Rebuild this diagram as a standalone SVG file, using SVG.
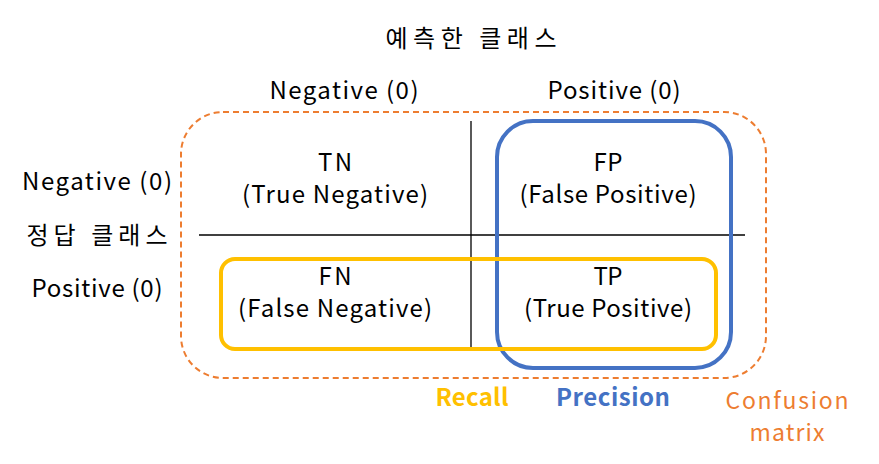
<svg xmlns="http://www.w3.org/2000/svg" width="879" height="464" viewBox="0 0 879 464">
<style>
text{font-family:"Noto Sans CJK KR","Noto Sans",sans-serif;font-size:24px;fill:#000;text-anchor:middle}
.b{font-weight:bold}
.o{fill:#ED7D31;font-size:23px}
</style>
<rect width="879" height="464" fill="#fff"/>
<g id="labels">
<text x="471" y="47" textLength="171" lengthAdjust="spacing">예측한 클래스</text>
<text x="344" y="99" textLength="149" lengthAdjust="spacing">Negative (0)</text>
<text x="614" y="99" textLength="133" lengthAdjust="spacing">Positive (0)</text>
<text x="97" y="190" textLength="150" lengthAdjust="spacing">Negative (0)</text>
<text x="97" y="244" textLength="141" lengthAdjust="spacing">정답 클래스</text>
<text x="97" y="297" textLength="131" lengthAdjust="spacing">Positive (0)</text>
</g>
<g id="confusion">
<rect x="181" y="112" width="585" height="266" rx="42" fill="none" stroke="#ED7D31" stroke-width="2" stroke-dasharray="6 4"/>
<text class="o" x="787" y="409" textLength="123" lengthAdjust="spacing">Confusion</text>
<text class="o" x="787" y="441" textLength="75" lengthAdjust="spacing">matrix</text>
</g>
<g id="grid">
<line x1="471" y1="121" x2="471" y2="347" stroke="#000" stroke-width="1.3"/>
<line x1="199" y1="235" x2="745" y2="235" stroke="#000" stroke-width="1.3"/>
</g>
<g id="tn"><text x="335" y="171" textLength="34" lengthAdjust="spacing">TN</text><text x="335" y="203" textLength="186" lengthAdjust="spacing">(True Negative)</text></g>
<g id="fp"><text x="608" y="171" textLength="29" lengthAdjust="spacing">FP</text><text x="608" y="203" textLength="177" lengthAdjust="spacing">(False Positive)</text></g>
<g id="fn"><text x="335" y="285" textLength="33" lengthAdjust="spacing">FN</text><text x="335" y="317" textLength="194" lengthAdjust="spacing">(False Negative)</text></g>
<g id="tp"><text x="608" y="285" textLength="29" lengthAdjust="spacing">TP</text><text x="608" y="317" textLength="168" lengthAdjust="spacing">(True Positive)</text></g>
<g id="precision">
<rect x="497" y="121" width="234" height="247" rx="36" fill="none" stroke="#4472C4" stroke-width="4"/>
<text class="b" x="613" y="406" textLength="114" lengthAdjust="spacing" style="fill:#4472C4">Precision</text>
</g>
<g id="recall">
<rect x="221" y="259" width="495" height="90" rx="14" fill="none" stroke="#FFC000" stroke-width="4"/>
<text class="b" x="472" y="406" textLength="73" lengthAdjust="spacing" style="fill:#FFC000">Recall</text>
</g>
</svg>
